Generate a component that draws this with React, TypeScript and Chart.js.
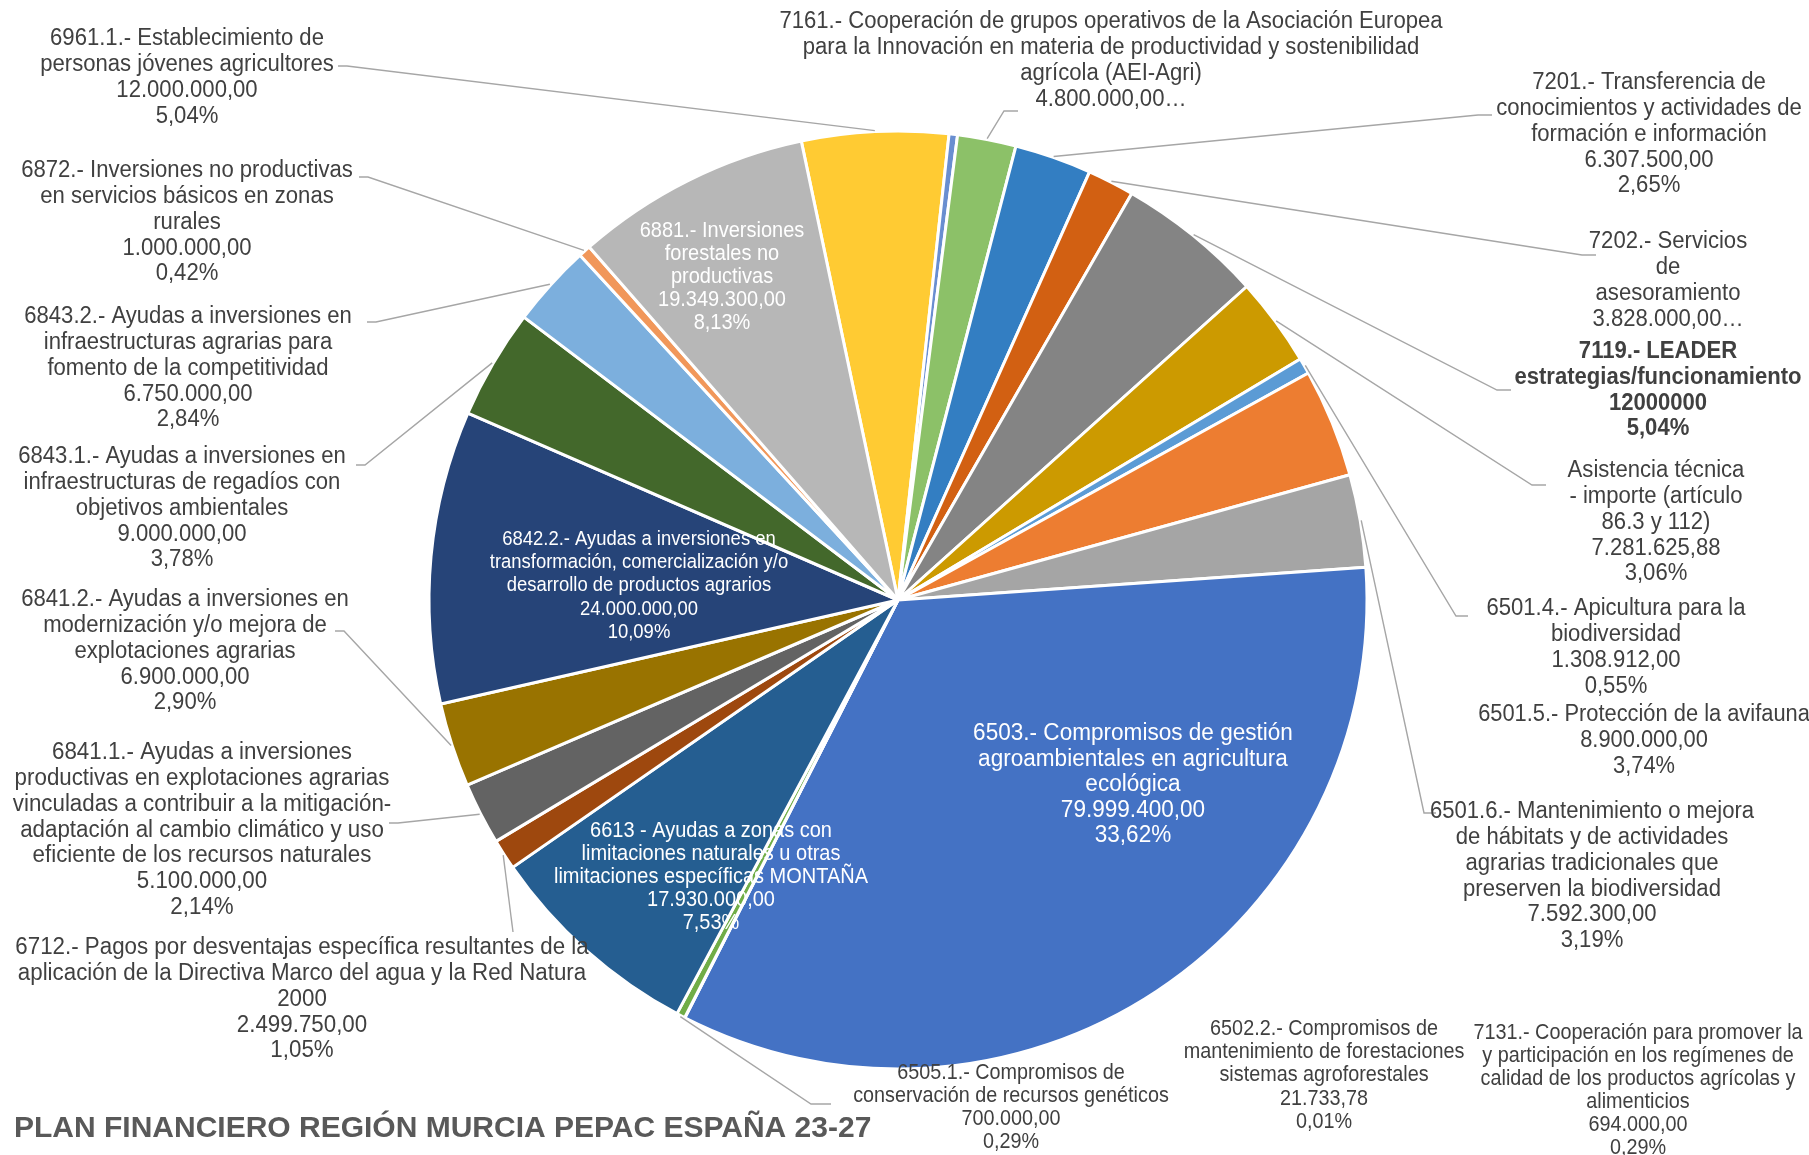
import React, { useEffect, useRef } from "react";
import { Chart, registerables } from "chart.js";

Chart.register(...registerables);

// ---------- data (clockwise order, starting with the yellow slice at the top) ----------
const codes = [
  "6961.1", "7131", "7161", "7201", "7202", "7119", "AT", "6501.4", "6501.5", "6501.6", "6503",
  "6502.2", "6505.1", "6613", "6712", "6841.1", "6841.2", "6842.2", "6843.1", "6843.2", "6872", "6881",
];

const values = [
  12000000, 694000, 4800000, 6307500, 3828000, 12000000, 7281625.88, 1308912, 8900000, 7592300, 79999400,
  21733.78, 700000, 17930000, 2499750, 5100000, 6900000, 24000000, 9000000, 6750000, 1000000, 19349300,
];

const names: string[][] = [
  ["6961.1.- Establecimiento de", "personas jóvenes agricultores"],
  ["7131.- Cooperación para promover la", "y participación en los regímenes de", "calidad de los productos agrícolas y", "alimenticios"],
  ["7161.- Cooperación de grupos operativos de la Asociación Europea", "para la Innovación en materia de productividad y sostenibilidad", "agrícola (AEI-Agri)"],
  ["7201.- Transferencia de", "conocimientos y actividades de", "formación e información"],
  ["7202.- Servicios", "de", "asesoramiento"],
  ["7119.- LEADER", "estrategias/funcionamiento"],
  ["Asistencia técnica", "- importe (artículo", "86.3 y 112)"],
  ["6501.4.- Apicultura para la", "biodiversidad"],
  ["6501.5.- Protección de la avifauna"],
  ["6501.6.- Mantenimiento o mejora", "de hábitats y de actividades", "agrarias tradicionales que", "preserven la biodiversidad"],
  ["6503.- Compromisos de gestión", "agroambientales en agricultura", "ecológica"],
  ["6502.2.- Compromisos de", "mantenimiento de forestaciones", "sistemas agroforestales"],
  ["6505.1.- Compromisos de", "conservación de recursos genéticos"],
  ["6613 - Ayudas a zonas con", "limitaciones naturales u otras", "limitaciones específicas MONTAÑA"],
  ["6712.- Pagos por desventajas específica resultantes de la", "aplicación de la Directiva Marco del agua y la Red Natura", "2000"],
  ["6841.1.- Ayudas a inversiones", "productivas en explotaciones agrarias", "vinculadas a contribuir a la mitigación-", "adaptación al cambio climático y uso", "eficiente de los recursos naturales"],
  ["6841.2.- Ayudas a inversiones en", "modernización y/o mejora de", "explotaciones agrarias"],
  ["6842.2.- Ayudas a inversiones en", "transformación, comercialización y/o", "desarrollo de productos agrarios"],
  ["6843.1.- Ayudas a inversiones en", "infraestructuras de regadíos con", "objetivos ambientales"],
  ["6843.2.- Ayudas a inversiones en", "infraestructuras agrarias para", "fomento de la competitividad"],
  ["6872.- Inversiones no productivas", "en servicios básicos en zonas", "rurales"],
  ["6881.- Inversiones", "forestales no", "productivas"],
];

// how the value part of each label is shown: full = value + percent, trunc = value… only, raw = unformatted value + percent
const valueStyles = [
  "full", "full", "trunc", "full", "trunc", "raw", "full", "full", "full", "full", "full",
  "full", "full", "full", "full", "full", "full", "full", "full", "full", "full", "full",
];

const colors = [
  "#FFCB33", "#698ED0", "#8CC168", "#337EC2", "#D26012", "#848484", "#CC9A00", "#5B9BD5", "#ED7D31", "#A5A5A5", "#4472C4",
  "#FFC000", "#70AD47", "#255E91", "#9E480E", "#636363", "#997300", "#264478", "#43682B", "#7CAFDD", "#F1975A", "#B7B7B7",
];

const chartTitle = "PLAN FINANCIERO REGIÓN MURCIA PEPAC ESPAÑA 23-27";

// ---------- layout (label placement, not data) ----------
type Lay = {
  x: number; y: number; step: number; size: number; sx: number; white?: boolean; bold?: boolean;
  p?: [number, number]; q?: [number, number];
};
const layout: Lay[] = [
  { x: 187, y: 39, step: 25.7, size: 23.5, sx: 0.94, p: [338, 66], q: [347, 66] },
  { x: 1638, y: 1033, step: 23, size: 22, sx: 0.9 },
  { x: 1111, y: 22, step: 26, size: 23.5, sx: 0.94, p: [1018, 111], q: [1004, 111] },
  { x: 1649, y: 83, step: 25.7, size: 23.5, sx: 0.94, p: [1492, 115], q: [1478, 115] },
  { x: 1668, y: 242, step: 25.7, size: 23.5, sx: 0.94, p: [1596, 255], q: [1582, 255] },
  { x: 1658, y: 352, step: 25.7, size: 23, sx: 0.96, bold: true, p: [1511, 390], q: [1497, 390] },
  { x: 1656, y: 471, step: 25.7, size: 23.5, sx: 0.94, p: [1546, 485], q: [1532, 485] },
  { x: 1616, y: 609, step: 25.7, size: 23.5, sx: 0.94, p: [1468, 616], q: [1456, 616] },
  { x: 1644, y: 715, step: 25.7, size: 23.5, sx: 0.93 },
  { x: 1592, y: 812, step: 25.7, size: 23.5, sx: 0.94, p: [1436, 813], q: [1424, 813] },
  { x: 1133, y: 734, step: 25.4, size: 23.5, sx: 0.96, white: true },
  { x: 1324, y: 1029, step: 23.2, size: 22, sx: 0.9 },
  { x: 1011, y: 1073, step: 23, size: 21.5, sx: 0.92, p: [831, 1104], q: [811, 1104] },
  { x: 711, y: 831, step: 23, size: 21.5, sx: 0.93, white: true },
  { x: 302, y: 948, step: 25.7, size: 23.5, sx: 0.95, p: [513, 932], q: [513, 932] },
  { x: 202, y: 753, step: 25.7, size: 23.5, sx: 0.95, p: [389, 823], q: [398, 823] },
  { x: 185, y: 600, step: 25.7, size: 23.5, sx: 0.94, p: [335, 631], q: [344, 631] },
  { x: 639, y: 539, step: 23.3, size: 20.5, sx: 0.9, white: true },
  { x: 182, y: 457, step: 25.7, size: 23.5, sx: 0.94, p: [356, 465], q: [365, 465] },
  { x: 188, y: 317, step: 25.7, size: 23.5, sx: 0.94, p: [367, 322], q: [376, 322] },
  { x: 187, y: 171, step: 25.7, size: 23.5, sx: 0.94, p: [359, 177], q: [368, 177] },
  { x: 722, y: 231, step: 23, size: 21.5, sx: 0.93, white: true },
];

const FONT = '"Liberation Sans", Arial, sans-serif';

function fmtNum(v: number): string {
  const fixed = v.toFixed(2);
  const [intPart, dec] = fixed.split(".");
  const grouped = intPart.replace(/\B(?=(\d{3})+(?!\d))/g, ".");
  return grouped + "," + dec;
}

export default function App() {
  const ref = useRef<HTMLCanvasElement>(null);

  useEffect(() => {
    const total = values.reduce((a, b) => a + b, 0);

    const labelPlugin = {
      id: "pieLabels",
      afterDatasetsDraw(chart: any) {
        const ctx = chart.ctx as CanvasRenderingContext2D;
        const meta = chart.getDatasetMeta(0);
        ctx.save();
        // leader lines
        ctx.strokeStyle = "#A6A6A6";
        ctx.lineWidth = 1.4;
        meta.data.forEach((arc: any, i: number) => {
          const L = layout[i];
          if (!L.p || !L.q) return;
          const { x, y, startAngle, endAngle, outerRadius } = arc.getProps(
            ["x", "y", "startAngle", "endAngle", "outerRadius"], true);
          const mid = (startAngle + endAngle) / 2;
          const sx = x + Math.cos(mid) * (outerRadius + 1);
          const sy = y + Math.sin(mid) * (outerRadius + 1);
          ctx.beginPath();
          ctx.moveTo(sx, sy);
          ctx.lineTo(L.q[0], L.q[1]);
          ctx.lineTo(L.p[0], L.p[1]);
          ctx.stroke();
        });
        // label texts
        ctx.textAlign = "center";
        ctx.textBaseline = "middle";
        values.forEach((v, i) => {
          const L = layout[i];
          const lines = [...names[i]];
          const pct = ((v / total) * 100).toFixed(2).replace(".", ",") + "%";
          const st = valueStyles[i];
          if (st === "trunc") {
            lines.push(fmtNum(v) + "…");
          } else if (st === "raw") {
            lines.push(String(v));
            lines.push(pct);
          } else {
            lines.push(fmtNum(v));
            lines.push(pct);
          }
          ctx.fillStyle = L.white ? "#FFFFFF" : "#404040";
          ctx.font = `${L.bold ? "bold " : ""}${L.size}px ${FONT}`;
          lines.forEach((t, k) => {
            ctx.save();
            ctx.translate(L.x, L.y + k * L.step);
            ctx.scale(L.sx, 1);
            ctx.fillText(t, 0, 0);
            ctx.restore();
          });
        });
        // title
        ctx.textAlign = "left";
        ctx.fillStyle = "#595959";
        ctx.font = `bold 30px ${FONT}`;
        ctx.fillText(chartTitle, 14, 1129);
        ctx.restore();
      },
    };

    const chart = new Chart(ref.current as HTMLCanvasElement, {
      type: "pie",
      data: {
        labels: codes,
        datasets: [
          {
            data: values,
            backgroundColor: colors,
            borderColor: "#FFFFFF",
            borderWidth: 3,
          },
        ],
      },
      options: {
        animation: false,
        responsive: false,
        rotation: -11.9,
        radius: 469,
        layout: { padding: { left: 0, right: 13, top: 45, bottom: 0 } },
        plugins: {
          legend: { display: false },
          tooltip: { enabled: false },
        },
      } as any,
      plugins: [labelPlugin],
    });
    return () => chart.destroy();
  }, []);

  return (
    <div style={{ position: "fixed", left: 0, top: 0, width: 1809, height: 1155, background: "#FFFFFF" }}>
      <canvas ref={ref} width={1809} height={1155} style={{ width: 1809, height: 1155, display: "block" }} />
    </div>
  );
}
